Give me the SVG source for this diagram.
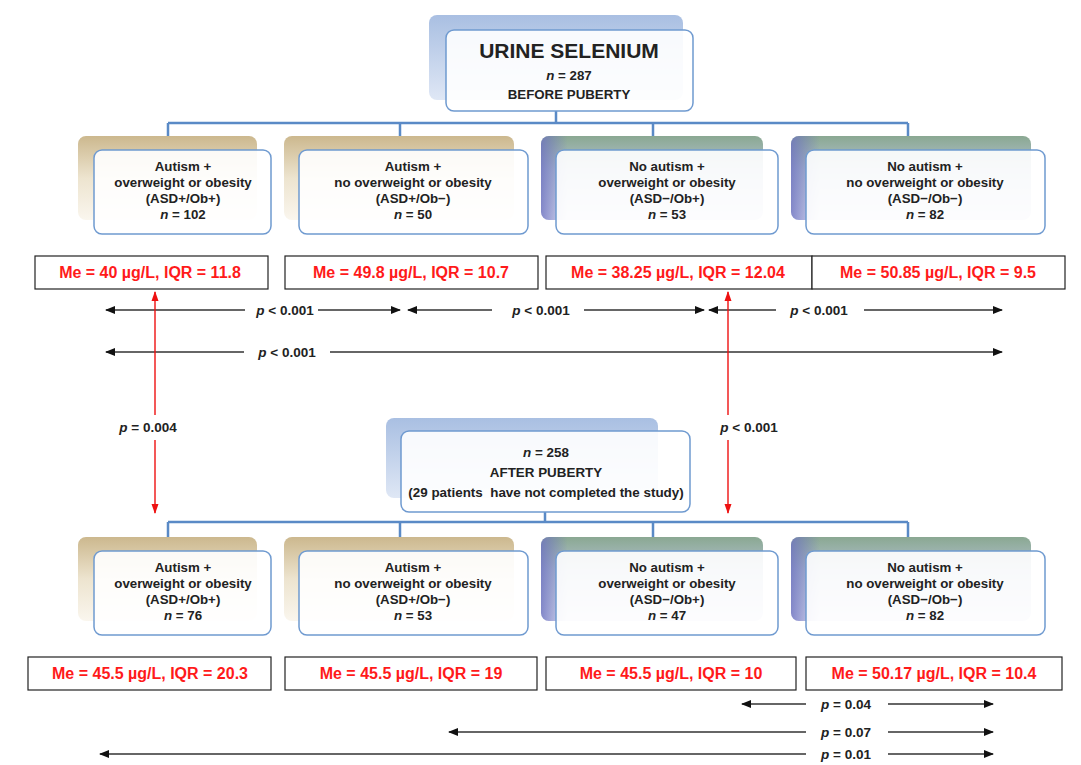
<svg xmlns="http://www.w3.org/2000/svg" width="1081" height="765" viewBox="0 0 1081 765">
<defs>
<linearGradient id="gTan" x1="0" y1="0" x2="0" y2="1"><stop offset="0" stop-color="#ccb88e"/><stop offset="0.5" stop-color="#ede4cf"/><stop offset="1" stop-color="#faf6ee"/></linearGradient>
<linearGradient id="gGreen" x1="0" y1="0" x2="0" y2="1"><stop offset="0" stop-color="#8aa892"/><stop offset="0.4" stop-color="#b4c2d2"/><stop offset="1" stop-color="#e0e2f3"/></linearGradient>
<linearGradient id="gSide" x1="0" y1="0" x2="1" y2="0"><stop offset="0" stop-color="#6d72c0" stop-opacity="0.8"/><stop offset="0.12" stop-color="#6d72c0" stop-opacity="0"/></linearGradient>
<linearGradient id="gBlue" x1="0" y1="0" x2="0" y2="1"><stop offset="0" stop-color="#a9bfe2"/><stop offset="1" stop-color="#dfe7f5"/></linearGradient>
<marker id="ah" markerUnits="userSpaceOnUse" markerWidth="10" markerHeight="10" viewBox="0 0 10 10" refX="9" refY="5" orient="auto"><path d="M0,1 L10,5 L0,9 z" fill="#111"/></marker>
<marker id="ahr" markerUnits="userSpaceOnUse" markerWidth="10" markerHeight="10" viewBox="0 0 10 10" refX="9" refY="5" orient="auto"><path d="M0,1.5 L10,5 L0,8.5 z" fill="#ee1111"/></marker>
<style>
.front{fill:#ffffff;fill-opacity:0.9;stroke:#6f9ad0;stroke-width:1.5}
.t{font-family:"Liberation Sans",Arial,sans-serif;font-weight:bold;font-size:13.3px;fill:#222;text-anchor:middle}
.title{font-size:21px}
.mid{font-size:13.4px}
.stat{fill:#fff;stroke:#222;stroke-width:1.2}
.st{font-family:"Liberation Sans",Arial,sans-serif;font-weight:bold;font-size:16px;fill:#ff1a1a;text-anchor:middle}
.pl{font-family:"Liberation Sans",Arial,sans-serif;font-weight:bold;font-size:13.5px;fill:#222;text-anchor:middle}
.pi{font-style:italic}
.conn{fill:none;stroke:#5a8ac6;stroke-width:2.5}
.ar{fill:none;stroke:#333;stroke-width:1.5}
.rd{fill:none;stroke:#ee1111;stroke-width:1.4}
</style>
</defs>
<rect width="1081" height="765" fill="#fff"/>

<g id="connectors">
<path class="conn" d="M556,111 V123 M168,123 H908 M168,123 V137 M400,123 V137 M653,123 V137 M908,123 V137"/>
<path class="conn" d="M545,512 V522 M168,522 H908 M168,522 V538 M400,522 V538 M653,522 V538 M908,522 V538"/>
<path class="ar" d="M245,310 H106" marker-end="url(#ah)"/>
<path class="ar" d="M318,310 H400" marker-end="url(#ah)"/>
<path class="ar" d="M492,310 H408" marker-end="url(#ah)"/>
<path class="ar" d="M584,310 H704" marker-end="url(#ah)"/>
<path class="ar" d="M776,310 H709" marker-end="url(#ah)"/>
<path class="ar" d="M864,310 H1002" marker-end="url(#ah)"/>
<path class="ar" d="M244,352 H106" marker-end="url(#ah)"/>
<path class="ar" d="M330,352 H1002" marker-end="url(#ah)"/>
<path class="rd" d="M155,415 V292" marker-end="url(#ahr)"/>
<path class="rd" d="M155,440 V513" marker-end="url(#ahr)"/>
<path class="rd" d="M728,415 V292" marker-end="url(#ahr)"/>
<path class="rd" d="M728,440 V513" marker-end="url(#ahr)"/>
<path class="ar" d="M806,704 H742" marker-end="url(#ah)"/>
<path class="ar" d="M888,704 H993" marker-end="url(#ah)"/>
<path class="ar" d="M806,732 H449" marker-end="url(#ah)"/>
<path class="ar" d="M888,732 H993" marker-end="url(#ah)"/>
<path class="ar" d="M806,754 H100" marker-end="url(#ah)"/>
<path class="ar" d="M888,754 H993" marker-end="url(#ah)"/>
</g>

<g id="labels">
<text class="pl" x="285" y="315"><tspan class="pi">p</tspan> &lt; 0.001</text>
<text class="pl" x="541" y="315"><tspan class="pi">p</tspan> &lt; 0.001</text>
<text class="pl" x="819" y="315"><tspan class="pi">p</tspan> &lt; 0.001</text>
<text class="pl" x="287" y="357"><tspan class="pi">p</tspan> &lt; 0.001</text>
<text class="pl" x="148" y="432"><tspan class="pi">p</tspan> = 0.004</text>
<text class="pl" x="749" y="432"><tspan class="pi">p</tspan> &lt; 0.001</text>
<text class="pl" x="846" y="709"><tspan class="pi">p</tspan> = 0.04</text>
<text class="pl" x="846" y="737"><tspan class="pi">p</tspan> = 0.07</text>
<text class="pl" x="846" y="759"><tspan class="pi">p</tspan> = 0.01</text>
</g>

<g id="top-node">
<rect x="429" y="15" width="254" height="85" rx="8" fill="url(#gBlue)"/>
<rect class="front" x="446" y="30" width="247" height="81" rx="8"/>
<text class="t title" x="569" y="58">URINE SELENIUM</text>
<text class="t" x="569" y="80"><tspan class="pi">n</tspan> = 287</text>
<text class="t" x="569" y="99">BEFORE PUBERTY</text>
</g>

<g id="b1">
<rect x="78" y="136" width="179" height="84" rx="8" fill="url(#gTan)"/>
<rect class="front" x="94" y="150" width="177" height="84" rx="8"/>
<text class="t" x="183" y="171">Autism +</text>
<text class="t" x="183" y="187">overweight or obesity</text>
<text class="t" x="183" y="203">(ASD+/Ob+)</text>
<text class="t" x="183" y="219"><tspan class="pi">n</tspan> = 102</text>
</g>
<g id="b2">
<rect x="284" y="136" width="230" height="84" rx="8" fill="url(#gTan)"/>
<rect class="front" x="299" y="150" width="229" height="84" rx="8"/>
<text class="t" x="413" y="171">Autism +</text>
<text class="t" x="413" y="187">no overweight or obesity</text>
<text class="t" x="413" y="203">(ASD+/Ob−)</text>
<text class="t" x="413" y="219"><tspan class="pi">n</tspan> = 50</text>
</g>
<g id="b3">
<rect x="541" y="136" width="222" height="84" rx="8" fill="url(#gGreen)"/>
<rect x="541" y="136" width="222" height="84" rx="8" fill="url(#gSide)"/>
<rect class="front" x="556" y="150" width="222" height="84" rx="8"/>
<text class="t" x="667" y="171">No autism +</text>
<text class="t" x="667" y="187">overweight or obesity</text>
<text class="t" x="667" y="203">(ASD−/Ob+)</text>
<text class="t" x="667" y="219"><tspan class="pi">n</tspan> = 53</text>
</g>
<g id="b4">
<rect x="791" y="136" width="240" height="84" rx="8" fill="url(#gGreen)"/>
<rect x="791" y="136" width="240" height="84" rx="8" fill="url(#gSide)"/>
<rect class="front" x="806" y="150" width="239" height="84" rx="8"/>
<text class="t" x="925" y="171">No autism +</text>
<text class="t" x="925" y="187">no overweight or obesity</text>
<text class="t" x="925" y="203">(ASD−/Ob−)</text>
<text class="t" x="925" y="219"><tspan class="pi">n</tspan> = 82</text>
</g>

<g id="stats-before">
<rect class="stat" x="35" y="256" width="233" height="33"/>
<text class="st" x="150" y="278">Me = 40 µg/L, IQR = 11.8</text>
<rect class="stat" x="285" y="256" width="253" height="33"/>
<text class="st" x="411" y="278">Me = 49.8 µg/L, IQR = 10.7</text>
<rect class="stat" x="546" y="256" width="266" height="33"/>
<text class="st" x="678" y="278">Me = 38.25 µg/L, IQR = 12.04</text>
<rect class="stat" x="812" y="256" width="253" height="33"/>
<text class="st" x="938" y="278">Me = 50.85 µg/L, IQR = 9.5</text>
</g>

<g id="middle-node">
<rect x="386" y="418" width="272" height="80" rx="8" fill="url(#gBlue)"/>
<rect class="front" x="401" y="431" width="289" height="81" rx="8"/>
<text class="t mid" x="546" y="457"><tspan class="pi">n</tspan> = 258</text>
<text class="t mid" x="546" y="477">AFTER PUBERTY</text>
<text class="t mid" x="546" y="497" xml:space="preserve">(29 patients  have not completed the study)</text>
</g>

<g id="c1">
<rect x="78" y="537" width="179" height="84" rx="8" fill="url(#gTan)"/>
<rect class="front" x="94" y="551" width="177" height="84" rx="8"/>
<text class="t" x="183" y="572">Autism +</text>
<text class="t" x="183" y="588">overweight or obesity</text>
<text class="t" x="183" y="604">(ASD+/Ob+)</text>
<text class="t" x="183" y="620"><tspan class="pi">n</tspan> = 76</text>
</g>
<g id="c2">
<rect x="284" y="537" width="230" height="84" rx="8" fill="url(#gTan)"/>
<rect class="front" x="299" y="551" width="229" height="84" rx="8"/>
<text class="t" x="413" y="572">Autism +</text>
<text class="t" x="413" y="588">no overweight or obesity</text>
<text class="t" x="413" y="604">(ASD+/Ob−)</text>
<text class="t" x="413" y="620"><tspan class="pi">n</tspan> = 53</text>
</g>
<g id="c3">
<rect x="541" y="537" width="222" height="84" rx="8" fill="url(#gGreen)"/>
<rect x="541" y="537" width="222" height="84" rx="8" fill="url(#gSide)"/>
<rect class="front" x="556" y="551" width="222" height="84" rx="8"/>
<text class="t" x="667" y="572">No autism +</text>
<text class="t" x="667" y="588">overweight or obesity</text>
<text class="t" x="667" y="604">(ASD−/Ob+)</text>
<text class="t" x="667" y="620"><tspan class="pi">n</tspan> = 47</text>
</g>
<g id="c4">
<rect x="791" y="537" width="240" height="84" rx="8" fill="url(#gGreen)"/>
<rect x="791" y="537" width="240" height="84" rx="8" fill="url(#gSide)"/>
<rect class="front" x="806" y="551" width="239" height="84" rx="8"/>
<text class="t" x="925" y="572">No autism +</text>
<text class="t" x="925" y="588">no overweight or obesity</text>
<text class="t" x="925" y="604">(ASD−/Ob−)</text>
<text class="t" x="925" y="620"><tspan class="pi">n</tspan> = 82</text>
</g>

<g id="stats-after">
<rect class="stat" x="28" y="657" width="243" height="33"/>
<text class="st" x="150" y="679">Me = 45.5 µg/L, IQR = 20.3</text>
<rect class="stat" x="285" y="657" width="252" height="33"/>
<text class="st" x="411" y="679">Me = 45.5 µg/L, IQR = 19</text>
<rect class="stat" x="546" y="657" width="250" height="33"/>
<text class="st" x="671" y="679">Me = 45.5 µg/L, IQR = 10</text>
<rect class="stat" x="806" y="657" width="256" height="33"/>
<text class="st" x="934" y="679">Me = 50.17 µg/L, IQR = 10.4</text>
</g>
</svg>
